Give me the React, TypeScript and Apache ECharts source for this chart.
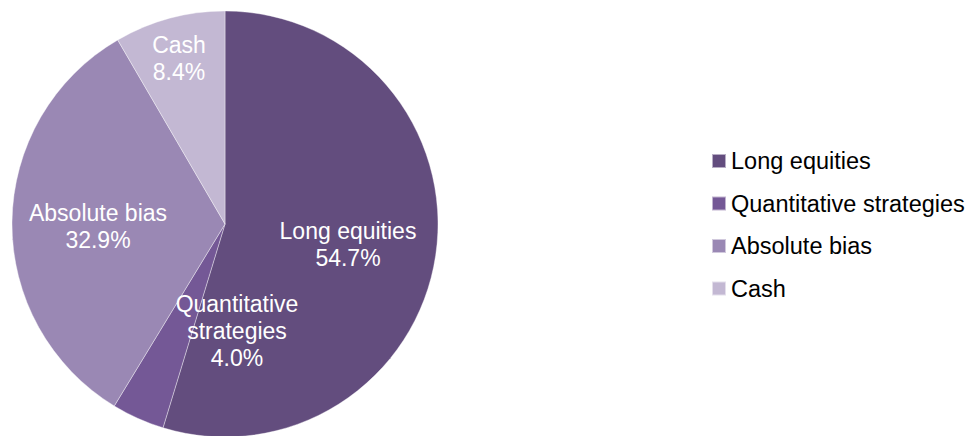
import React, { useEffect, useRef } from "react";
import * as echarts from "echarts";

const categories = ["Long equities", "Quantitative strategies", "Absolute bias", "Cash"];
const values = [54.7, 4.0, 32.9, 8.4];
const colors = ["#634D7E", "#745896", "#9A88B4", "#C3B8D3"];
// label anchor positions (pixels) for the in-slice labels
const labelPos: [number, number][] = [
  [348, 244],
  [237, 331],
  [98, 226],
  [179, 58],
];

export default function App() {
  const ref = useRef<HTMLDivElement>(null);
  useEffect(() => {
    document.body.style.margin = "0";
    const chart = echarts.init(ref.current!, undefined, { renderer: "svg" });
    const font = "'Liberation Sans', Arial, sans-serif";
    chart.setOption({
      animation: false,
      color: colors,
      legend: {
        orient: "vertical",
        left: 711,
        top: 149,
        padding: 0,
        itemWidth: 14,
        itemHeight: 14,
        itemGap: 18.5,
        icon: "rect",
        data: categories,
        textStyle: { fontFamily: font, fontSize: 23.5, color: "#000", lineHeight: 23 },
      },
      series: [
        {
          type: "pie",
          center: [225, 224],
          radius: 213,
          startAngle: 90,
          clockwise: true,
          itemStyle: { borderColor: "rgba(255,255,255,0.55)", borderWidth: 0.7 },
          label: {
            show: true,
            position: "inside",
            color: "#fff",
            fontFamily: font,
            fontSize: 23,
            lineHeight: 27,
            formatter: (p: any) => {
              const name = p.name === "Quantitative strategies" ? "Quantitative\nstrategies" : p.name;
              return name + "\n" + p.value.toFixed(1) + "%";
            },
          },
          labelLayout: (params: any) => {
            const pos = labelPos[params.dataIndex];
            return { x: pos[0], y: pos[1], align: "center", verticalAlign: "middle" };
          },
          emphasis: { disabled: true },
          data: categories.map((c, i) => ({ name: c, value: values[i] })),
        },
      ],
    });
    return () => chart.dispose();
  }, []);
  return <div ref={ref} style={{ width: 968, height: 436 }} />;
}
